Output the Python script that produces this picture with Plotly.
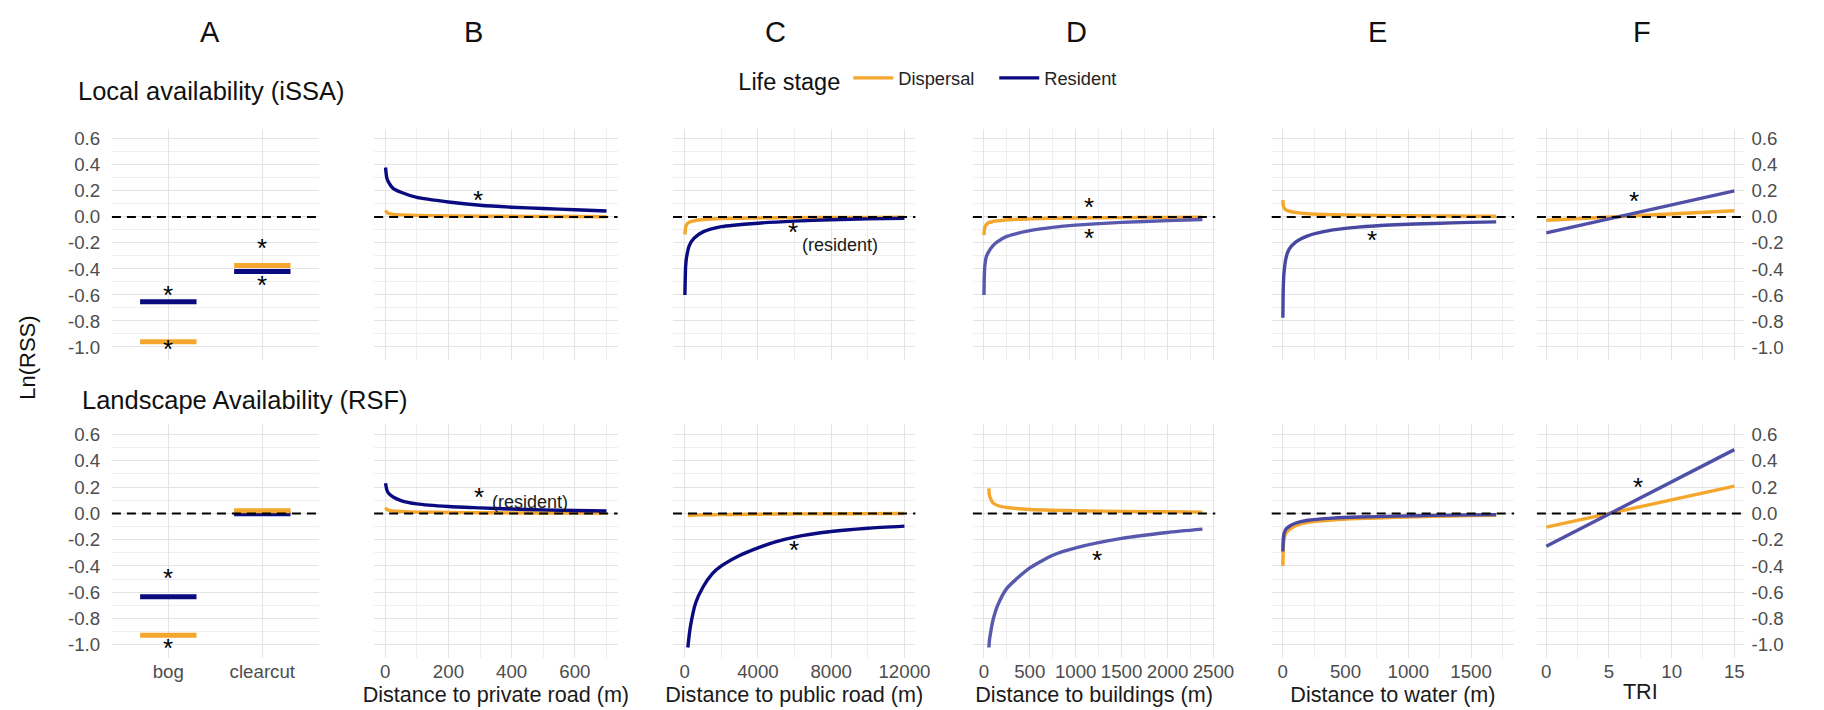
import plotly.graph_objects as go

# ---------------- chart text ----------------
panel_letters = ["A", "B", "C", "D", "E", "F"]
row_titles = ["Local availability (iSSA)", "Landscape Availability (RSF)"]
x_titles = ["", "Distance to private road (m)", "Distance to public road (m)",
            "Distance to buildings (m)", "Distance to water (m)", "TRI"]
y_title = "Ln(RSS)"
legend_title = "Life stage"
stage_names = ["Dispersal", "Resident"]
resident_note = "(resident)"

# ---------------- panel A : habitat categories ----------------
habitat_cats = ["bog", "clearcut"]
hab_iss_dispersal = [-0.96, -0.374]
hab_iss_resident = [-0.653, -0.42]
hab_rsf_dispersal = [-0.926, 0.02]
hab_rsf_resident = [-0.635, -0.003]

# ---------------- panel B : distance to private road ----------------
private_x = [1, 5, 10, 25, 50, 100, 200, 300, 400, 500, 600, 700]
private_iss_dispersal = [0.05, 0.035, 0.028, 0.02, 0.016, 0.012, 0.008, 0.006, 0.005, 0.004, 0.003, 0.002]
private_iss_resident = [0.38, 0.30, 0.27, 0.22, 0.19, 0.15, 0.115, 0.09, 0.075, 0.065, 0.055, 0.046]
private_rsf_dispersal = [0.045, 0.03, 0.025, 0.018, 0.014, 0.01, 0.007, 0.005, 0.004, 0.003, 0.002, 0.002]
private_rsf_resident = [0.23, 0.18, 0.155, 0.125, 0.098, 0.072, 0.052, 0.042, 0.033, 0.027, 0.022, 0.018]

# ---------------- panel C : distance to public road ----------------
public_iss_x = [10, 50, 100, 250, 500, 1000, 2000, 4000, 6000, 8000, 10000, 12000]
public_iss_dispersal = [-0.135, -0.08, -0.06, -0.04, -0.03, -0.02, -0.012, -0.008, -0.005, -0.004, -0.003, -0.002]
public_iss_resident = [-0.6, -0.38, -0.31, -0.22, -0.165, -0.115, -0.075, -0.048, -0.032, -0.022, -0.015, -0.01]
public_rsf_x = [170, 300, 600, 1000, 1500, 2000, 3000, 4000, 5000, 6000, 8000, 10000, 12000]
public_rsf_dispersal = [-0.015, -0.014, -0.012, -0.011, -0.01, -0.009, -0.008, -0.006, -0.005, -0.004, -0.003, -0.002, -0.001]
public_rsf_resident = [-1.02, -0.87, -0.68, -0.56, -0.46, -0.40, -0.32, -0.262, -0.215, -0.18, -0.138, -0.113, -0.097]

# ---------------- panel D : distance to buildings ----------------
building_iss_x = [1, 5, 10, 25, 50, 100, 150, 250, 500, 750, 1000, 1500, 2000, 2380]
building_iss_dispersal = [-0.14, -0.1, -0.08, -0.06, -0.045, -0.035, -0.03, -0.022, -0.015, -0.01, -0.008, -0.005, -0.003, -0.002]
building_iss_resident = [-0.6, -0.45, -0.38, -0.31, -0.27, -0.22, -0.19, -0.15, -0.105, -0.08, -0.063, -0.042, -0.028, -0.02]
building_rsf_x = [55, 60, 75, 100, 150, 250, 500, 750, 1000, 1500, 2000, 2380]
building_rsf_dispersal = [0.19, 0.14, 0.11, 0.08, 0.06, 0.045, 0.03, 0.024, 0.02, 0.015, 0.012, 0.01]
building_rsf_resident = [-1.02, -0.97, -0.9, -0.81, -0.7, -0.57, -0.415, -0.318, -0.262, -0.19, -0.145, -0.12]

# ---------------- panel E : distance to water ----------------
water_x = [1, 3, 5, 10, 25, 50, 100, 200, 400, 600, 900, 1200, 1500, 1700]
water_iss_dispersal = [0.13, 0.1, 0.085, 0.07, 0.055, 0.045, 0.035, 0.025, 0.018, 0.014, 0.01, 0.008, 0.006, 0.005]
water_iss_resident = [-0.775, -0.6, -0.52, -0.43, -0.32, -0.25, -0.195, -0.145, -0.1, -0.078, -0.06, -0.05, -0.042, -0.038]
water_rsf_dispersal = [-0.40, -0.3, -0.25, -0.2, -0.15, -0.125, -0.095, -0.068, -0.05, -0.04, -0.03, -0.023, -0.017, -0.014]
water_rsf_resident = [-0.29, -0.22, -0.185, -0.155, -0.12, -0.1, -0.075, -0.052, -0.036, -0.028, -0.021, -0.015, -0.011, -0.009]

# ---------------- panel F : TRI ----------------
tri_x = [0, 15]
tri_iss_dispersal = [-0.025, 0.048]
tri_iss_resident = [-0.123, 0.2]
tri_rsf_dispersal = [-0.105, 0.207]
tri_rsf_resident = [-0.25, 0.485]

# ---------------- ticks ----------------
y_tick_values = [-1.0, -0.8, -0.6, -0.4, -0.2, 0.0, 0.2, 0.4, 0.6]
y_tick_labels = ["-1.0", "-0.8", "-0.6", "-0.4", "-0.2", "0.0", "0.2", "0.4", "0.6"]
private_ticks = [0, 200, 400, 600]
public_ticks = [0, 4000, 8000, 12000]
building_ticks = [0, 500, 1000, 1500, 2000, 2500]
water_ticks = [0, 500, 1000, 1500]
tri_ticks = [0, 5, 10, 15]

# significance marks: (row, col, x, y, text)
sig_marks = [
    (0, 0, 1, -0.585, "*"), (0, 0, 1, -1.003, "*"), (0, 0, 2, -0.226, "*"), (0, 0, 2, -0.508, "*"),
    (0, 1, 295, 0.145, "*"),
    (0, 2, 5930, -0.098, "*"),
    (0, 3, 1150, 0.094, "*"), (0, 3, 1150, -0.145, "*"),
    (0, 4, 714, -0.162, "*"),
    (0, 5, 7.0, 0.138, "*"),
    (1, 0, 1, -0.478, "*"), (1, 0, 1, -1.011, "*"),
    (1, 1, 297, 0.138, "*"),
    (1, 2, 5973, -0.263, "*"),
    (1, 3, 1237, -0.339, "*"),
    (1, 5, 7.3, 0.218, "*"),
]
note_marks = [(0, 2, 6270, -0.214), (1, 1, 331, 0.084)]

# ---------------- layout / style ----------------
W, H = 1824, 710
COL_PX = [(105, 314), (370, 616), (672, 917), (975, 1220), (1277, 1522), (1545, 1754)]
ROW_PX = [(120.5, 352), (416, 650)]
X_RANGES = [[0.4, 2.6], [-35, 735], [-640, 12600], [-120, 2520], [-88, 1843], [-0.75, 15.75]]
X_MINOR = [None, 100, 2000, 250, 250, 2.5]
Y_RANGE = [-1.1, 0.68]
ORANGE = "#F4A72C"
NAVY = "#0B0B80"
RES_COLORS = [NAVY, NAVY, NAVY, "#5858AD", "#4848A3", "#5050A8"]
GRID = "#E4E4E4"
GRID_MINOR = "#EFEFEF"
TICK_COLOR = "#4D4D4D"
FONT = "Liberation Sans, Arial, sans-serif"

x_tick_sets = [[1, 2], private_ticks, public_ticks, building_ticks, water_ticks, tri_ticks]
x_tick_texts = [habitat_cats] + [[str(v) for v in t] for t in x_tick_sets[1:]]

curves = {
    (0, 1): (private_x, private_iss_dispersal, private_iss_resident),
    (1, 1): (private_x, private_rsf_dispersal, private_rsf_resident),
    (0, 2): (public_iss_x, public_iss_dispersal, public_iss_resident),
    (1, 2): (public_rsf_x, public_rsf_dispersal, public_rsf_resident),
    (0, 3): (building_iss_x, building_iss_dispersal, building_iss_resident),
    (1, 3): (building_rsf_x, building_rsf_dispersal, building_rsf_resident),
    (0, 4): (water_x, water_iss_dispersal, water_iss_resident),
    (1, 4): (water_x, water_rsf_dispersal, water_rsf_resident),
    (0, 5): (tri_x, tri_iss_dispersal, tri_iss_resident),
    (1, 5): (tri_x, tri_rsf_dispersal, tri_rsf_resident),
}
habitat = {
    0: (hab_iss_dispersal, hab_iss_resident),
    1: (hab_rsf_dispersal, hab_rsf_resident),
}


def axn(r, c):
    return r * 6 + c + 1


def xref(n):
    return "x" if n == 1 else f"x{n}"


def yref(n):
    return "y" if n == 1 else f"y{n}"


fig = go.Figure()
legend_done = {"Dispersal": False, "Resident": False}

for r in range(2):
    for c in range(6):
        n = axn(r, c)
        if c == 0:
            disp, res = habitat[r]
            for i, cat in enumerate(habitat_cats):
                center = i + 1
                fig.add_trace(go.Scatter(
                    x=[center - 0.3, center + 0.3], y=[res[i], res[i]], mode="lines",
                    line=dict(color=RES_COLORS[c], width=5), showlegend=False,
                    xaxis=xref(n), yaxis=yref(n), hoverinfo="skip"))
                fig.add_trace(go.Scatter(
                    x=[center - 0.3, center + 0.3], y=[disp[i], disp[i]], mode="lines",
                    line=dict(color=ORANGE, width=5), showlegend=False,
                    xaxis=xref(n), yaxis=yref(n), hoverinfo="skip"))
        else:
            xs, disp, res = curves[(r, c)]
            show_d = not legend_done["Dispersal"]
            legend_done["Dispersal"] = True
            fig.add_trace(go.Scatter(
                x=xs, y=disp, mode="lines", name=stage_names[0],
                line=dict(color=ORANGE, width=3.4, shape="spline", smoothing=0.6),
                showlegend=show_d, legendgroup="d",
                xaxis=xref(n), yaxis=yref(n)))
            show_r = not legend_done["Resident"]
            legend_done["Resident"] = True
            fig.add_trace(go.Scatter(
                x=xs, y=res, mode="lines", name=stage_names[1],
                line=dict(color=RES_COLORS[c], width=3.4, shape="spline", smoothing=0.6),
                showlegend=show_r, legendgroup="r",
                xaxis=xref(n), yaxis=yref(n)))

layout = {}
shapes = []
annotations = []
for r in range(2):
    for c in range(6):
        n = axn(r, c)
        x0, x1 = COL_PX[c]
        ytop, ybot = ROW_PX[r]
        xa = dict(
            domain=[x0 / W, x1 / W], range=X_RANGES[c], anchor=yref(n),
            showgrid=True, gridcolor=GRID, gridwidth=1.2, zeroline=False, showline=False,
            tickmode="array", tickvals=x_tick_sets[c], ticktext=x_tick_texts[c],
            ticks="",
            showticklabels=(r == 1), tickfont=dict(size=18.7, color=TICK_COLOR, family=FONT),
        )
        if X_MINOR[c] is not None:
            xa["minor"] = dict(dtick=X_MINOR[c], tick0=0, showgrid=True,
                               gridcolor=GRID_MINOR, gridwidth=1, ticks="")
        if r == 1 and x_titles[c]:
            xa["title"] = dict(text=x_titles[c], standoff=3,
                               font=dict(size=21.6, color="#1A1A1A", family=FONT))
        ya = dict(
            domain=[1 - ybot / H, 1 - ytop / H], range=Y_RANGE, anchor=xref(n),
            showgrid=True, gridcolor=GRID, gridwidth=1.2, zeroline=False, showline=False,
            tickmode="array", tickvals=y_tick_values, ticktext=y_tick_labels,
            minor=dict(dtick=0.1, tick0=0, showgrid=True, gridcolor=GRID_MINOR, gridwidth=1, ticks=""),
            tickfont=dict(size=18.7, color=TICK_COLOR, family=FONT),
            showticklabels=(c in (0, 5)),
            ticks="outside", tickcolor="rgba(0,0,0,0)",
            ticklen=7 if c == 0 else 3,
            side="left" if c != 5 else "right",
        )
        key = "" if n == 1 else str(n)
        layout["xaxis" + key] = xa
        layout["yaxis" + key] = ya
        shapes.append(dict(type="line", xref=xref(n) + " domain", yref=yref(n),
                           x0=0, x1=1, y0=0, y1=0, layer="above",
                           line=dict(color="black", width=2, dash="9px,6px")))

# significance stars
for (r, c, x, y, t) in sig_marks:
    n = axn(r, c)
    annotations.append(dict(x=x, y=y, xref=xref(n), yref=yref(n), text=t, showarrow=False,
                            xanchor="center", yanchor="middle", yshift=-2,
                            font=dict(size=26, color="black", family=FONT)))
for (r, c, x, y) in note_marks:
    n = axn(r, c)
    annotations.append(dict(x=x, y=y, xref=xref(n), yref=yref(n), text=resident_note,
                            showarrow=False, xanchor="left", yanchor="middle",
                            font=dict(size=18, color="#1A1A1A", family=FONT)))

# column letters
letter_px = [204, 470, 776, 1080, 1384, 1651]
for L, px in zip(panel_letters, letter_px):
    annotations.append(dict(x=px / W, y=1 - 24 / H, xref="paper", yref="paper", text=L,
                            xanchor="center", yanchor="middle", showarrow=False,
                            font=dict(size=29, color="#111111", family=FONT)))
# row titles
for txt, (px, py) in zip(row_titles, [(69, 83), (73, 392)]):
    annotations.append(dict(x=px / W, y=1 - py / H, xref="paper", yref="paper", text=txt,
                            xanchor="left", yanchor="middle", showarrow=False,
                            font=dict(size=25.5, color="#111111", family=FONT)))
# y title
annotations.append(dict(x=19 / W, y=1 - 350 / H, xref="paper", yref="paper", text=y_title,
                        textangle=-90, xanchor="center", yanchor="middle", showarrow=False,
                        font=dict(size=22, color="#111111", family=FONT)))

fig.update_layout(
    width=W, height=H, margin=dict(l=0, r=0, t=0, b=0),
    paper_bgcolor="white", plot_bgcolor="white",
    font=dict(family=FONT),
    shapes=shapes, annotations=annotations,
    legend=dict(orientation="h", x=736 / W, xanchor="left", y=1 - 72 / H, yanchor="middle",
                title=dict(text=legend_title, side="left",
                           font=dict(size=23.5, color="#111111", family=FONT)),
                font=dict(size=18.3, color="#222222", family=FONT),
                bgcolor="rgba(0,0,0,0)", itemwidth=40, entrywidth=91,
                entrywidthmode="pixels"),
    **layout,
)

fig.write_html("out.html")
